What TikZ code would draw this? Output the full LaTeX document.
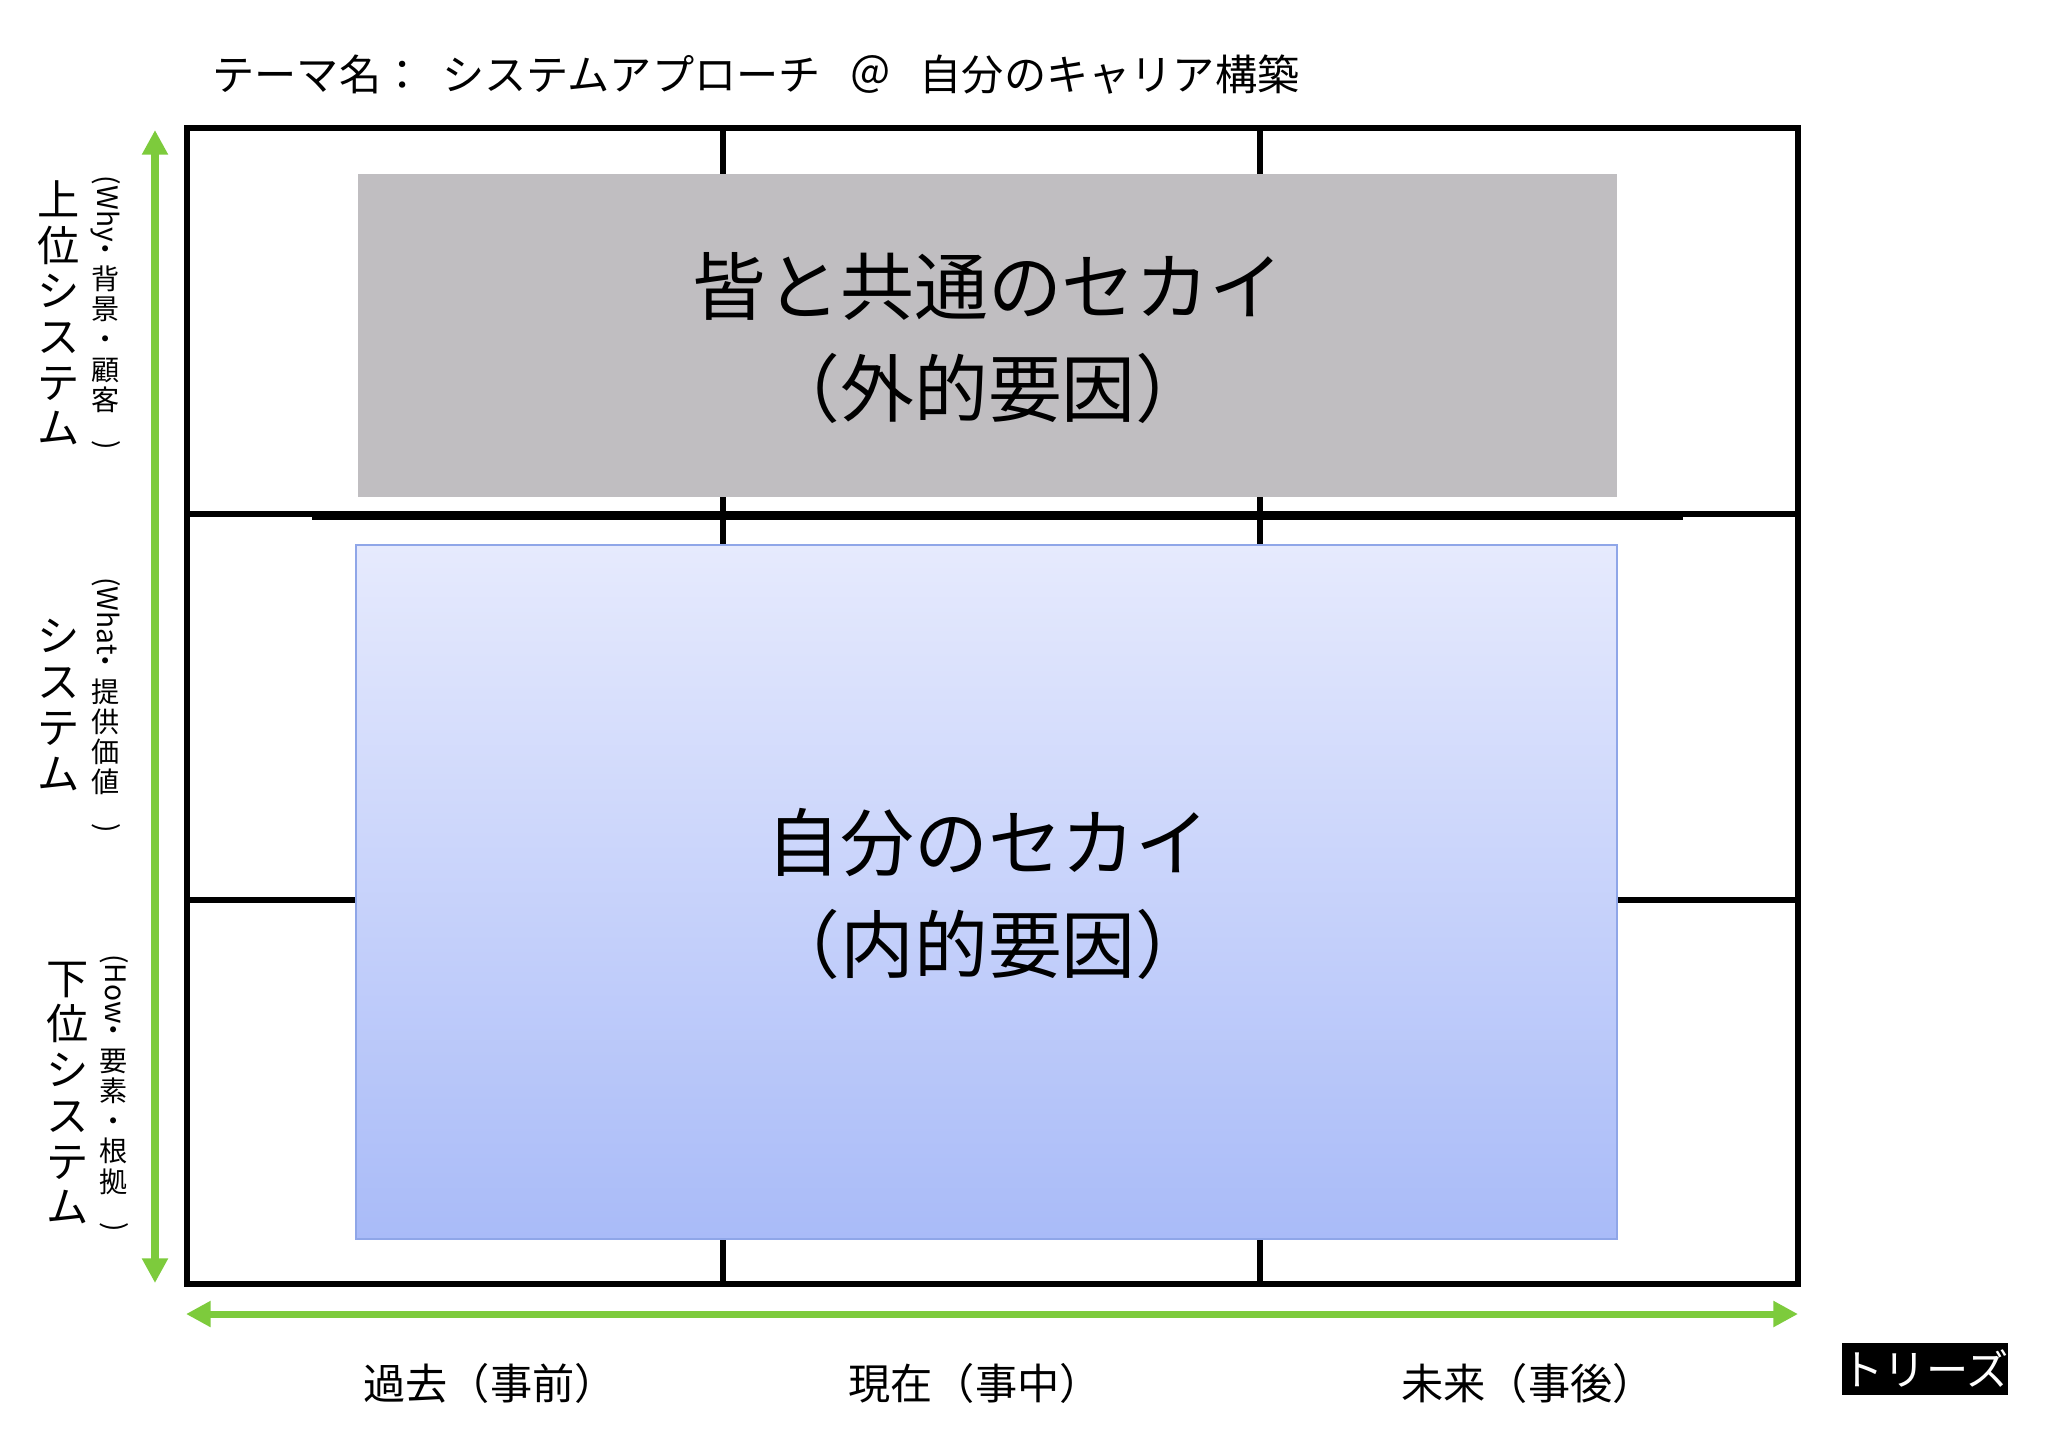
\documentclass[tikz,border=0pt]{standalone}
\usepackage{fontspec}
\setmainfont{Noto Sans CJK JP}
\begin{document}
\begin{tikzpicture}[x=0.01cm,y=-0.01cm,
  grid/.style={line width=1.7pt,black},
  garrow/.style={line width=2pt,draw={rgb,255:red,125;green,203;blue,60}},
  vlab/.style={align=center,font=\fontsize{12}{13}\selectfont,inner sep=0pt},
  vsmall/.style={align=center,font=\fontsize{8}{8.6}\selectfont,inner sep=0pt},
  blab/.style={font=\fontsize{12}{14}\selectfont},
  big/.style={align=center,font=\fontsize{21}{29}\selectfont}]
\usetikzlibrary{arrows.meta}
\definecolor{gbox}{RGB}{192,190,193}
\definecolor{btop}{RGB}{230,234,253}
\definecolor{bbot}{RGB}{169,187,248}
\definecolor{bline}{RGB}{143,166,232}
\definecolor{agreen}{RGB}{125,203,60}
\useasboundingbox (0,0) rectangle (2048,1447);
\fill[white] (0,0) rectangle (2048,1447);
% grid
\draw[grid] (187,128) rectangle (1798,1284);
\draw[grid] (723,128) -- (723,1284);
\draw[grid] (1260,128) -- (1260,1284);
\draw[grid] (187,514) -- (1798,514);
\draw[grid] (187,900) -- (1798,900);
\draw[line width=2.2pt] (312,516) -- (1683,516);
% boxes
\fill[gbox] (358,174) rectangle (1617,497);
\node[big] (gt) at (988,338) {皆と共通のセカイ\\（外的要因）};
\shade[top color=btop,bottom color=bbot,draw=bline,line width=0.8pt] (356,545) rectangle (1617,1239);
\node[big] (bt) at (988,894) {自分のセカイ\\（内的要因）};
% title
\node[blab,anchor=west] (title) at (200,75) {テーマ名：\ \ システムアプローチ\ \ \ ＠\ \ \ 自分のキャリア構築};
% arrows
\coordinate (vt) at (155,130); \coordinate (vb) at (155,1283);
\draw[garrow,{Triangle[length=7pt,width=7pt,fill=agreen]}-{Triangle[length=7pt,width=7pt,fill=agreen]}] (vt) -- (vb);
\coordinate (hl) at (186,1314); \coordinate (hr) at (1798,1314);
\draw[garrow,{Triangle[length=7pt,width=7pt,fill=agreen]}-{Triangle[length=7pt,width=7pt,fill=agreen]}] (hl) -- (hr);
% bottom labels
\node[blab] (b1) at (490,1383) {過去（事前）};
\node[blab] (b2) at (975,1383) {現在（事中）};
\node[blab] (b3) at (1528,1383) {未来（事後）};
\node[fill=black,text=white,blab,minimum width=1.64cm,minimum height=0.52cm,inner sep=0pt] (tr) at (1925,1369) {トリーズ};
% left labels
\node[vlab] (l1) at (59,313) {上\\位\\シ\\ス\\テ\\ム};
\node[vsmall] (s1) at (106,313) {\rotatebox{-90}{(Why}\\・\\背\\景\\・\\顧\\客\\\rotatebox{-90}{)}};
\node[vlab] (l2) at (59,705) {シ\\ス\\テ\\ム};
\node[vsmall] (s2) at (106,705) {\rotatebox{-90}{(What}\\・\\提\\供\\価\\値\\\rotatebox{-90}{)}};
\node[vlab] (l3) at (68,1093) {下\\位\\シ\\ス\\テ\\ム};
\node[vsmall] (s3) at (114,1093) {\rotatebox{-90}{(How}\\・\\要\\素\\・\\根\\拠\\\rotatebox{-90}{)}};
\end{tikzpicture}
\end{document}
